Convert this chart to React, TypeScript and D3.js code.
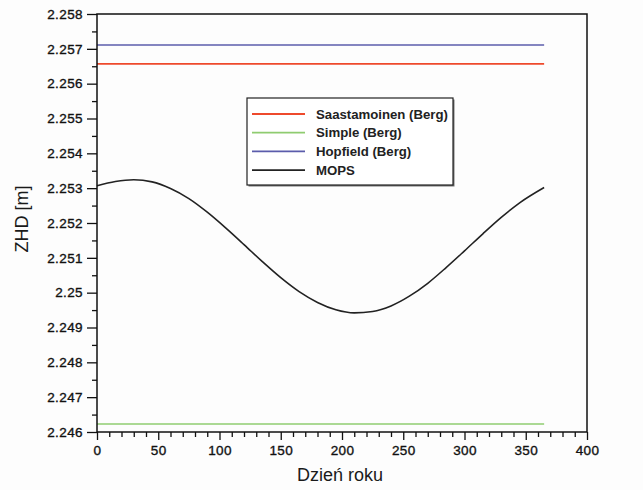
import React, {useEffect, useRef} from 'react';
import * as d3 from 'd3';

// day of year for the MOPS curve
const days = [0, 15, 30, 45, 60, 75, 90, 105, 120, 135, 150, 165, 180, 195, 210, 225, 240, 255, 270, 285, 300, 315, 330, 345, 365];
const mops = [2.25307, 2.25319, 2.25324, 2.25318, 2.25299, 2.25270, 2.25231, 2.25186, 2.25138, 2.25089, 2.25043, 2.25003, 2.24972, 2.24951, 2.24942, 2.24946, 2.24962, 2.24990, 2.25027, 2.25072, 2.25120, 2.25169, 2.25216, 2.25258, 2.25302];

// the Berg models are constant over the year
const bergDays = [0, 365];
const saastamoinen = [2.25657, 2.25657];
const simple = [2.24623, 2.24623];
const hopfield = [2.25711, 2.25711];

const xTicks = [0, 50, 100, 150, 200, 250, 300, 350, 400];
const yTicks = [2.246, 2.247, 2.248, 2.249, 2.25, 2.251, 2.252, 2.253, 2.254, 2.255, 2.256, 2.257, 2.258];

const legendNames = ['Saastamoinen (Berg)', 'Simple (Berg)', 'Hopfield (Berg)', 'MOPS'];
const colours = ['#ee4a2c', '#8fcc70', '#5b5cab', '#222222'];

const W = 643;
const H = 490;
const margin = {left: 97, right: 56, top: 14, bottom: 58};
const font = 'Liberation Sans, Arial, sans-serif';

const App = () => {
    const ref = useRef<SVGSVGElement>(null);

    useEffect(() => {
        const svg = d3.select(ref.current);
        svg.selectAll('*').remove();

        const width = W - margin.left - margin.right;
        const height = H - margin.top - margin.bottom;

        const x = d3.scaleLinear().domain([0, 400]).range([0, width]);
        const y = d3.scaleLinear().domain([2.246, 2.258]).range([height, 0]);

        const chart = svg.append('g')
            .attr('transform', `translate(${margin.left}, ${margin.top})`);

        // minor ticks
        chart.append('g')
            .call(d3.axisLeft(y).tickValues(d3.range(2.2465, 2.258, 0.001)).tickSize(5).tickFormat(() => ''))
            .call(g => g.select('.domain').remove());
        chart.append('g')
            .attr('transform', `translate(0, ${height})`)
            .call(d3.axisBottom(x).tickValues(d3.range(10, 400, 10).filter(d => d % 50 !== 0)).tickSize(5).tickFormat(() => ''))
            .call(g => g.select('.domain').remove());

        // major ticks
        const yAxis = chart.append('g')
            .call(d3.axisLeft(y).tickValues(yTicks).tickSize(10).tickPadding(4)
                .tickFormat(d => String(+(+d).toFixed(3))));
        yAxis.select('.domain').remove();
        const xAxis = chart.append('g')
            .attr('transform', `translate(0, ${height})`)
            .call(d3.axisBottom(x).tickValues(xTicks).tickSize(8).tickPadding(5));
        xAxis.select('.domain').remove();

        chart.selectAll('.tick line').attr('stroke', '#111').attr('stroke-width', 1.3);
        chart.selectAll('.tick text')
            .attr('font-family', font)
            .attr('font-size', 13.5)
            .attr('letter-spacing', 0.4)
            .attr('fill', '#111')
            .attr('stroke', '#111')
            .attr('stroke-width', 0.35);

        const line = d3.line<[number, number]>()
            .x(d => x(d[0]))
            .y(d => y(d[1]));

        const series = [
            bergDays.map((d, i) => [d, saastamoinen[i]] as [number, number]),
            bergDays.map((d, i) => [d, simple[i]] as [number, number]),
            bergDays.map((d, i) => [d, hopfield[i]] as [number, number]),
        ];
        series.forEach((s, i) => {
            chart.append('path')
                .datum(s)
                .attr('d', line)
                .attr('fill', 'none')
                .attr('stroke', colours[i])
                .attr('stroke-width', 1.7);
        });

        chart.append('path')
            .datum(days.map((d, i) => [d, mops[i]] as [number, number]))
            .attr('d', line.curve(d3.curveMonotoneX))
            .attr('fill', 'none')
            .attr('stroke', colours[3])
            .attr('stroke-width', 1.6);

        // frame
        chart.append('rect')
            .attr('width', width)
            .attr('height', height)
            .attr('fill', 'none')
            .attr('stroke', '#111')
            .attr('stroke-width', 1.5);

        // legend
        const legend = chart.append('g').attr('transform', `translate(${247 - margin.left}, ${98 - margin.top})`);
        legend.append('rect')
            .attr('x', 1.5).attr('y', 1.5)
            .attr('width', 206).attr('height', 87)
            .attr('fill', '#777');
        legend.append('rect')
            .attr('width', 206).attr('height', 87)
            .attr('fill', 'white')
            .attr('stroke', '#222')
            .attr('stroke-width', 1.2);
        legendNames.forEach((name, i) => {
            const ly = 16 + i * 18.7;
            legend.append('line')
                .attr('x1', 5).attr('x2', 58)
                .attr('y1', ly).attr('y2', ly)
                .attr('stroke', colours[i])
                .attr('stroke-width', 1.8);
            legend.append('text')
                .attr('x', 69).attr('y', ly)
                .attr('dy', '0.35em')
                .attr('font-family', font)
                .attr('font-size', 13.2)
                .attr('font-weight', 'bold')
                .attr('fill', '#222')
                .text(name);
        });

        // axis titles
        svg.append('text')
            .attr('x', margin.left + x(200) - 2)
            .attr('y', 481)
            .attr('text-anchor', 'middle')
            .attr('font-family', font)
            .attr('font-size', 18)
            .attr('fill', '#1a1a1a')
            .text('Dzień roku');

        svg.append('text')
            .attr('transform', `translate(28, 219) rotate(-90)`)
            .attr('text-anchor', 'middle')
            .attr('font-family', font)
            .attr('font-size', 18)
            .attr('fill', '#1a1a1a')
            .text('ZHD [m]');
    }, []);

    return (
        <svg ref={ref} width={W} height={H}
             style={{position: 'absolute', left: 0, top: 0, background: '#fdfdfd'}}/>
    );
};

export default App;
